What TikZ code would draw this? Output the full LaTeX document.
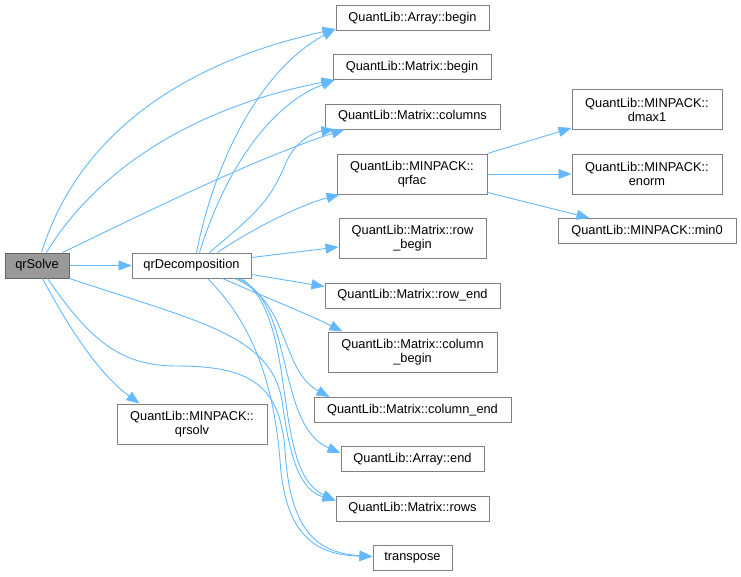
\documentclass[tikz,border=0pt]{standalone}
\usepackage{fontspec}
\setmainfont{Liberation Sans}
\usetikzlibrary{arrows.meta}
\definecolor{edgeblue}{HTML}{63B8FF}
\definecolor{boxborder}{HTML}{808080}
\definecolor{rootfill}{HTML}{999999}
\definecolor{rootborder}{HTML}{666666}
\begin{document}
\begin{tikzpicture}[x=1pt,y=-1pt,
  box/.style={draw=boxborder,line width=1pt,fill=white,inner sep=0pt,align=center,
    minimum height=25pt,font=\fontsize{12.8}{14}\selectfont},
  box2/.style={box,minimum height=40pt},
  rootbox/.style={box,fill=rootfill,draw=rootborder},
  call/.style={draw=edgeblue,line width=0.9pt,-{Triangle[length=13pt,width=10pt]}}]
\useasboundingbox (0,0) rectangle (741,576);
% nodes
\node[rootbox,minimum width=64pt] (qrSolve) at (37,265.5) {qrSolve};
\node[box,minimum width=119pt] (qrD) at (191.5,265.5) {qrDecomposition};
\node[box,minimum width=153pt] (arrbegin) at (412.5,18) {QuantLib::Array::begin};
\node[box,minimum width=158pt] (matbegin) at (412,67) {QuantLib::Matrix::begin};
\node[box,minimum width=175pt] (columns) at (412.5,116.5) {QuantLib::Matrix::columns};
\node[box2,minimum width=150pt] (qrfac) at (412,174) {QuantLib::MINPACK::\\qrfac};
\node[box2,minimum width=147pt] (rowbegin) at (412.5,238) {QuantLib::Matrix::row\\\_begin};
\node[box,minimum width=175pt] (rowend) at (412.5,295.5) {QuantLib::Matrix::row\_end};
\node[box2,minimum width=169pt] (colbegin) at (412.5,352) {QuantLib::Matrix::column\\\_begin};
\node[box,minimum width=197pt] (colend) at (412.5,410) {QuantLib::Matrix::column\_end};
\node[box,minimum width=143pt] (arrend) at (412.5,459) {QuantLib::Array::end};
\node[box,minimum width=153pt] (rows) at (412.5,508.5) {QuantLib::Matrix::rows};
\node[box,minimum width=79pt] (transpose) at (412.5,557.5) {transpose};
\node[box2,minimum width=150pt] (dmax1) at (647,109.5) {QuantLib::MINPACK::\\dmax1};
\node[box2,minimum width=150pt] (enorm) at (647,174) {QuantLib::MINPACK::\\enorm};
\node[box,minimum width=178pt] (min0) at (647,231) {QuantLib::MINPACK::min0};
\node[box2,minimum width=150pt] (qrsolv) at (192,424) {QuantLib::MINPACK::\\qrsolv};
% qrSolve edges
\draw[call] (qrSolve.east) -- (qrD.west);
\draw[call] ([xshift=37pt]qrSolve.north west) .. controls (70,160) and (150,70) .. ([yshift=2pt]arrbegin.south west);
\draw[call] ([xshift=42pt]qrSolve.north west) .. controls (90,180) and (180,110) .. ([xshift=2pt]matbegin.south west);
\draw[call] ([xshift=58pt]qrSolve.north west) .. controls (120,225) and (250,160) .. ([xshift=20pt]columns.south west);
\draw[call] ([xshift=38pt]qrSolve.south west) .. controls (70,330) and (100,375) .. ([xshift=23pt]qrsolv.north west);
\draw[call] (qrSolve.south east) .. controls (200,322) and (270,335) .. (282,400)
   .. controls (290,460) and (300,490) .. ([yshift=8pt]rows.west);
\draw[call] ([xshift=43pt]qrSolve.south west) .. controls (90,340) and (120,366) .. (177,366)
   .. controls (250,366) and (280,385) .. (285,450)
   .. controls (290,535) and (320,553) .. ([yshift=1pt]transpose.west);
% qrDecomposition edges
\draw[call] ([xshift=65pt]qrD.north west) .. controls (215,160) and (260,70) .. ([yshift=2pt]arrbegin.south west);
\draw[call] ([xshift=68pt]qrD.north west) .. controls (225,170) and (270,105) .. ([xshift=2pt]matbegin.south west);
\draw[call] ([xshift=78pt]qrD.north west) .. controls (260,210) and (270,200) .. (285,165)
   .. controls (295,140) and (315,132) .. ([xshift=10pt]columns.south west);
\draw[call] ([xshift=86pt]qrD.north west) .. controls (250,230) and (300,205) .. ([xshift=3pt]qrfac.south west);
\draw[call] ([yshift=-5pt]qrD.north east) -- ([yshift=-9pt]rowbegin.west);
\draw[call] ([yshift=4pt]qrD.south east) -- ([yshift=-4pt]rowend.north west);
\draw[call] ([xshift=91pt]qrD.south west) .. controls (260,295) and (310,315) .. ([xshift=15pt]colbegin.north west);
\draw[call] ([xshift=103pt]qrD.south west) .. controls (290,300) and (280,370) .. ([xshift=16pt]colend.north west);
\draw[call] ([xshift=106pt]qrD.south west) .. controls (295,300) and (275,425) .. ([yshift=6pt]arrend.west);
\draw[call] ([xshift=110pt]qrD.south west) .. controls (300,320) and (270,470) .. ([yshift=8pt]rows.west);
\draw[call] ([xshift=76pt]qrD.south west) .. controls (260,330) and (275,400) .. (280,460)
   .. controls (285,540) and (320,555) .. ([yshift=1pt]transpose.west);
% qrfac edges
\draw[call] (qrfac.north east) -- ([yshift=2pt]dmax1.south west);
\draw[call] (qrfac.east) -- (enorm.west);
\draw[call] ([yshift=2pt]qrfac.south east) -- ([xshift=32pt]min0.north west);
\end{tikzpicture}
\end{document}
